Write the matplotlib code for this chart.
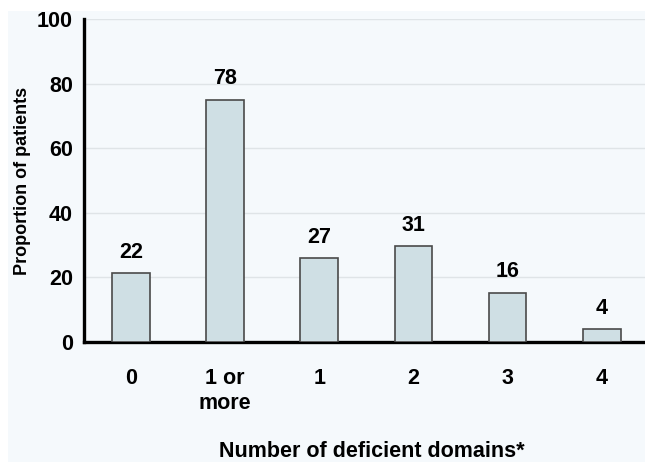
import matplotlib
matplotlib.use('Agg')
import matplotlib.pyplot as plt
from matplotlib.patches import Rectangle

categories = ['0', '1 or\nmore', '1', '2', '3', '4']
bar_heights = [21.3, 75.0, 26.0, 29.7, 15.3, 4.0]
bar_labels = ['22', '78', '27', '31', '16', '4']
y_ticks = [0, 20, 40, 60, 80, 100]

plt.rcParams['font.family'] = ['Liberation Sans', 'DejaVu Sans']
plt.rcParams['font.weight'] = 'bold'
fs = 15.5

bg = '#f5f9fc'
fig = plt.figure(figsize=(6.45, 4.62), dpi=100, facecolor='white')
fig.patches.append(Rectangle((8 / 645, 0), 1, 1 - 11 / 462, transform=fig.transFigure,
                             facecolor=bg, edgecolor='none', zorder=-10))
ax = fig.add_axes([84 / 645, 120 / 462, 1 - 84 / 645, 323 / 462])
ax.set_facecolor(bg)

x = list(range(len(categories)))
ax.bar(x, bar_heights, width=0.4, color='#cfdfe4', edgecolor='#4a4a4a', linewidth=1.2, zorder=3)
for xi, h, lab in zip(x, bar_heights, bar_labels):
    ax.annotate(lab, (xi, h), xytext=(0, 15), textcoords='offset points',
                ha='center', va='center', fontsize=fs, fontweight='bold')

ax.set_xlim(-0.5, 5.46)
ax.set_ylim(0, 100)
ax.set_yticks(y_ticks)
ax.set_xticks(x)
ax.set_xticklabels(categories, fontsize=fs, fontweight='bold', va='top', linespacing=1.25)
ax.tick_params(axis='y', length=0, pad=8, labelsize=fs)
ax.tick_params(axis='x', length=0, pad=19)
ax.grid(axis='y', color='#dfe4e7', linewidth=1, zorder=0)
ax.set_axisbelow(True)

for s in ['top', 'right']:
    ax.spines[s].set_visible(False)
for s in ['left', 'bottom']:
    ax.spines[s].set_linewidth(2.4)
    ax.spines[s].set_color('black')

ax.set_ylabel('Proportion of patients', fontsize=13, fontweight='bold', va='center')
ax.yaxis.set_label_coords(-0.11, 0.5)
ax.set_xlabel('Number of deficient domains*', fontsize=fs, fontweight='bold', va='center')
ax.xaxis.set_label_coords(0.513, -0.34)

fig.savefig('out.png', dpi=100, facecolor=fig.get_facecolor())
